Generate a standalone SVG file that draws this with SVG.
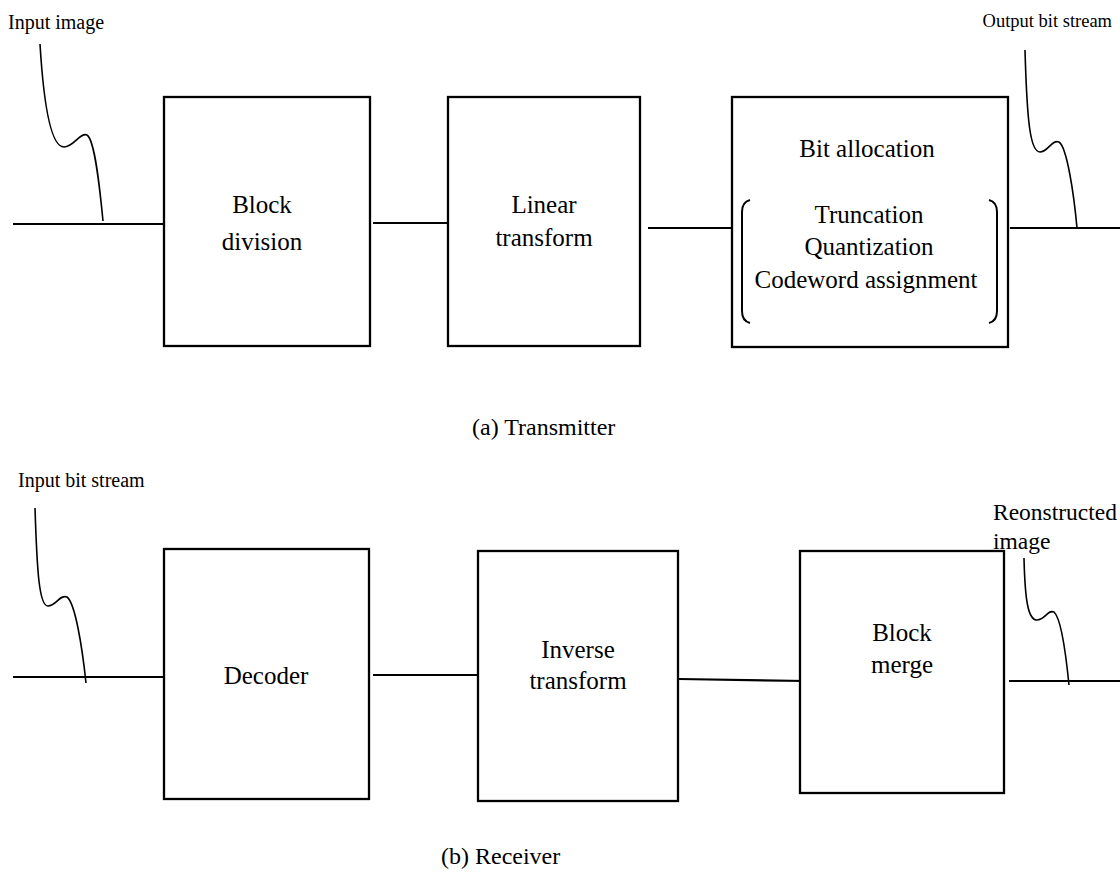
<svg xmlns="http://www.w3.org/2000/svg" width="1120" height="888" viewBox="0 0 1120 888">
  <style>
    .box { fill: #ffffff; stroke: #000000; stroke-width: 2.3; }
    .wire { fill: none; stroke: #000000; stroke-width: 2.2; }
    .lead { fill: none; stroke: #000000; stroke-width: 1.6; }
    .brk { fill: none; stroke: #000000; stroke-width: 2; }
    text { font-family: "Liberation Serif", "Times New Roman", serif; font-size: 25px; fill: #000000; }
    .c { text-anchor: middle; }
    .tag { font-size: 20px; }
    .small { font-size: 18.5px; }
    .cap { font-size: 24px; }
    .big { font-size: 23.5px; }
  </style>
  <rect width="1120" height="888" fill="#ffffff"/>

  <!-- signal lines between stages -->
  <g id="connectors">
    <line class="wire" x1="13" y1="224" x2="168" y2="224"/>
    <line class="wire" x1="373" y1="223" x2="453" y2="223"/>
    <line class="wire" x1="648" y1="228" x2="732" y2="228"/>
    <line class="wire" x1="1010" y1="228" x2="1120" y2="228"/>
    <line class="wire" x1="13" y1="677" x2="168" y2="677"/>
    <line class="wire" x1="373" y1="675" x2="477" y2="675"/>
    <line class="wire" x1="679" y1="679" x2="806" y2="681"/>
    <line class="wire" x1="1009" y1="681" x2="1120" y2="681"/>
    <!-- label leader squiggles -->
    <path class="lead" d="M 40 44 C 44 110, 52 147, 64 147 C 74 147, 80 132, 87 135 C 95 140, 100 190, 103 221"/>
    <path class="lead" d="M 1025 50 C 1027 120, 1030 152, 1040 152 C 1048 152, 1052 139, 1059 142 C 1067 147, 1074 195, 1077 228"/>
    <path class="lead" d="M 35 508 C 37 570, 39 606, 48 606 C 56 606, 60 594, 67 597 C 75 603, 82 645, 86 683"/>
    <path class="lead" d="M 1024 558 C 1025 600, 1028 620, 1037 620 C 1045 620, 1048 609, 1054 612 C 1061 618, 1066 655, 1069 685"/>
  </g>

  <!-- transmitter -->
  <g id="block-division">
    <rect class="box" x="164" y="97" width="206" height="249"/>
    <text class="c" x="262" y="213">Block</text>
    <text class="c" x="262" y="250">division</text>
  </g>
  <g id="linear-transform">
    <rect class="box" x="448" y="97" width="192" height="249"/>
    <text class="c" x="544" y="213">Linear</text>
    <text class="c" x="544" y="246">transform</text>
  </g>
  <g id="bit-allocation">
    <rect class="box" x="732" y="97" width="276" height="250"/>
    <text class="c" x="867" y="157">Bit allocation</text>
    <path class="brk" d="M 750 200 Q 742 202 742 212 L 742 311 Q 742 321 750 323"/>
    <path class="brk" d="M 989 200 Q 997 202 997 212 L 997 311 Q 997 321 989 323"/>
    <text class="c" x="869" y="223">Truncation</text>
    <text class="c" x="869" y="255">Quantization</text>
    <text class="c" x="866" y="288">Codeword assignment</text>
  </g>

  <!-- receiver -->
  <g id="decoder">
    <rect class="box" x="164" y="549" width="205" height="250"/>
    <text class="c" x="266" y="684">Decoder</text>
  </g>
  <g id="inverse-transform">
    <rect class="box" x="478" y="551" width="200" height="250"/>
    <text class="c" x="578" y="658">Inverse</text>
    <text class="c" x="578" y="689">transform</text>
  </g>
  <g id="block-merge">
    <rect class="box" x="800" y="551" width="204" height="242"/>
    <text class="c" x="902" y="641">Block</text>
    <text class="c" x="902" y="673">merge</text>
  </g>

  <!-- labels -->
  <g id="labels">
    <text class="tag" x="8" y="29">Input image</text>
    <text class="small" x="1112" y="27" text-anchor="end">Output bit stream</text>
    <text class="cap" x="472" y="435">(a) Transmitter</text>
    <text class="tag" x="18" y="487">Input bit stream</text>
    <text class="big" x="993" y="520">Reonstructed</text>
    <text class="big" x="993" y="549">image</text>
    <text class="cap" x="441" y="864">(b) Receiver</text>
  </g>
</svg>
